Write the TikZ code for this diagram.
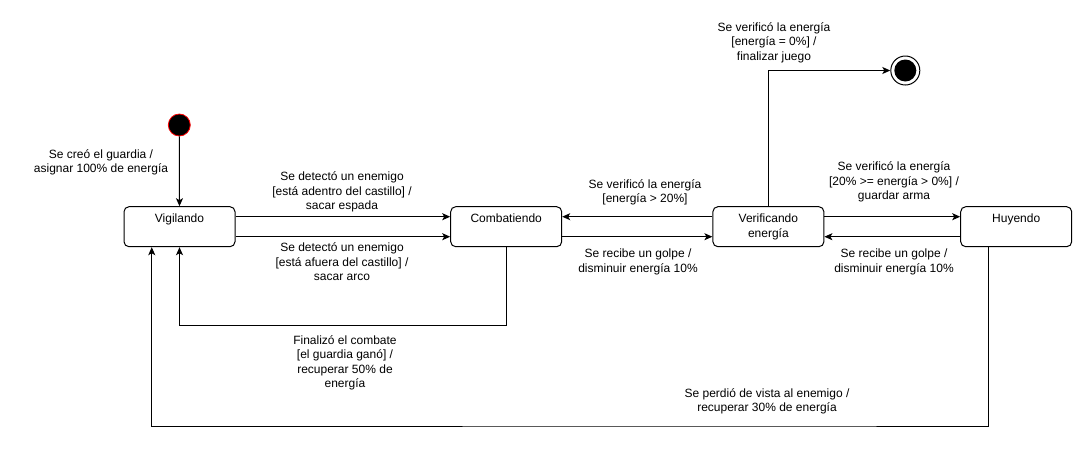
\documentclass[tikz,border=0pt]{standalone}
\usepackage{fontspec}
\setmainfont{Liberation Sans}
\usetikzlibrary{arrows.meta}
\begin{document}
\begin{tikzpicture}[x=1pt,y=-1pt,
  every node/.style={font=\fontsize{12}{14.4}\selectfont},
  statebox/.style={draw, line width=1pt, rounded corners=5pt, minimum width=111pt, minimum height=40pt, inner sep=0pt},
  statetext/.style={anchor=north, yshift=-7.5pt, inner sep=0pt, align=center},
  lbl/.style={align=center, inner sep=0pt},
  arr/.style={line width=1pt, -{Stealth[length=8pt,width=7pt,inset=2pt]}}
]
\useasboundingbox (0,0) rectangle (1092,456);
% states
\node[circle, fill=black, draw=red, line width=0.8pt, minimum size=22pt, inner sep=0pt] (start) at (179.3,125) {};
\node[statebox] (vig) at (179.5,226.7) {};
\node[statetext] (vigt) at (vig.north) {Vigilando};
\node[statebox] (com) at (506.2,226.7) {};
\node[statetext] (comt) at (com.north) {Combatiendo};
\node[statebox] (ver) at (768.4,226.7) {};
\node[statetext] (vert) at (ver.north) {Verificando\\energía};
\node[statebox] (huy) at (1016.2,226.7) {};
\node[statetext] (huyt) at (huy.north) {Huyendo};
\node[circle, draw=black, line width=1pt, minimum size=29pt, inner sep=0pt] (endc) at (905.3,70.5) {};
\node[circle, fill=black, minimum size=22pt, inner sep=0pt] (endi) at (endc.center) {};
% connectors
\coordinate (c1) at (343,325.7);
\coordinate (c2) at (767,426);
\draw[arr] (start) -- (vig.north);
\draw[arr] ([yshift=10pt]vig.east) -- ([yshift=10pt]com.west);
\draw[arr] ([yshift=-10pt]vig.east) -- ([yshift=-10pt]com.west);
\draw[arr] (com.south) |- (c1) -| (vig.south);
\draw[arr] ([yshift=10pt]ver.west) -- ([yshift=10pt]com.east);
\draw[arr] ([yshift=-10pt]com.east) -- ([yshift=-10pt]ver.west);
\draw[arr] (ver.north) |- (endc.west);
\draw[arr] ([yshift=10pt]ver.east) -- ([yshift=10pt]huy.west);
\draw[arr] ([yshift=-10pt]huy.west) -- ([yshift=-10pt]ver.east);
\draw[arr] ([xshift=-27.75pt]huy.south) |- (c2) -| ([xshift=-27.75pt]vig.south);
% labels
\node[lbl] (l0) at (101,162.5) {Se creó el guardia /\\asignar 100\% de energía};
\node[lbl] (l1) at (342,192) {Se detectó un enemigo\\{[}está adentro del castillo{]} /\\sacar espada};
\node[lbl] (l2) at (342,262) {Se detectó un enemigo\\{[}está afuera del castillo{]} /\\sacar arco};
\node[lbl] (l3) at (345,363) {Finalizó el combate\\{[}el guardia ganó{]} /\\recuperar 50\% de\\energía};
\node[lbl] (l4) at (645,192.5) {Se verificó la energía\\{[}energía > 20\%{]}};
\node[lbl] (l5) at (638,262) {Se recibe un golpe /\\disminuir energía 10\%};
\node[lbl] (l6) at (774,42.5) {Se verificó la energía\\{[}energía = 0\%{]} /\\finalizar juego};
\node[lbl] (l7) at (894,182) {Se verificó la energía\\{[}20\% >= energía > 0\%{]} /\\guardar arma};
\node[lbl] (l8) at (894,262) {Se recibe un golpe /\\disminuir energía 10\%};
\node[lbl] (l9) at (767,401.5) {Se perdió de vista al enemigo /\\recuperar 30\% de energía};
\end{tikzpicture}
\end{document}
